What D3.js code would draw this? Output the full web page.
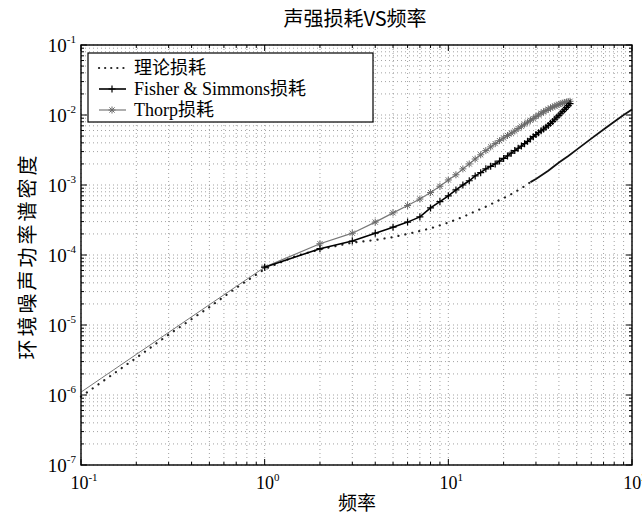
<!DOCTYPE html>
<html>
<head>
<meta charset="utf-8">
<script src="https://cdn.jsdelivr.net/npm/d3@7/dist/d3.min.js"></script>
<style>
  body { margin: 0; background: #fff; }
  svg { display: block; }
  .cjk { font-family: "Noto Sans CJK SC", sans-serif; }
  .num { font-family: "Liberation Serif", "DejaVu Serif", serif; }
</style>
</head>
<body>
<svg id="chart" width="642" height="514"></svg>
<script>
// data
var theoryFreq = [0.1, 0.2, 0.3, 0.5, 0.7, 1, 1.5, 2, 3, 4, 5, 6, 7, 8, 10, 12, 14, 16, 18, 20, 22, 25, 28, 30, 35, 40, 45, 50, 60, 70, 80, 90, 100];
var theoryVal = [9.5e-7, 3.4e-6, 7.3e-6, 1.8e-5, 3.4e-5, 6.3e-5, 9.8e-5, 1.2e-4, 1.5e-4, 1.64e-4, 1.8e-4, 2.0e-4, 2.2e-4, 2.4e-4, 2.9e-4, 3.5e-4, 4.2e-4, 4.9e-4, 5.7e-4, 6.5e-4, 7.4e-4, 9.0e-4, 1.1e-3, 1.22e-3, 1.6e-3, 2.1e-3, 2.6e-3, 3.2e-3, 4.6e-3, 6.2e-3, 8.0e-3, 1.0e-2, 1.2e-2];

var lowFreq = [0.1, 0.2, 0.5, 1];
var lowVal = [1.1e-6, 3.8e-6, 1.95e-5, 6.7e-5];

var freq = [1, 2, 3, 4, 5, 6, 7, 8, 9, 10, 11, 12, 13, 14, 15, 16, 17, 18, 19, 20, 21, 22, 23, 24, 25, 26, 27, 28, 29, 30, 31, 32, 33, 34, 35, 36, 37, 38, 39, 40, 41, 42, 43, 44, 45, 46];
var fisherVal = [6.7e-5, 1.23e-4, 1.58e-4, 2.05e-4, 2.5e-4, 2.95e-4, 3.5e-4, 4.7e-4, 5.8e-4, 7.0e-4, 8.5e-4, 1.0e-3, 1.15e-3, 1.35e-3, 1.5e-3, 1.7e-3, 1.85e-3, 2.0e-3, 2.2e-3, 2.4e-3, 2.6e-3, 2.85e-3, 3.1e-3, 3.35e-3, 3.6e-3, 3.9e-3, 4.2e-3, 4.55e-3, 4.9e-3, 5.25e-3, 5.6e-3, 5.95e-3, 6.3e-3, 6.7e-3, 7.1e-3, 7.6e-3, 8.1e-3, 8.7e-3, 9.3e-3, 9.9e-3, 1.06e-2, 1.13e-2, 1.2e-2, 1.28e-2, 1.36e-2, 1.45e-2];
var thorpVal = [6.7e-5, 1.45e-4, 2.05e-4, 2.95e-4, 4.0e-4, 5.1e-4, 6.3e-4, 7.8e-4, 9.6e-4, 1.18e-3, 1.4e-3, 1.7e-3, 2.0e-3, 2.35e-3, 2.7e-3, 3.1e-3, 3.5e-3, 3.9e-3, 4.3e-3, 4.7e-3, 5.1e-3, 5.5e-3, 5.9e-3, 6.4e-3, 6.9e-3, 7.4e-3, 7.9e-3, 8.4e-3, 8.9e-3, 9.5e-3, 1.0e-2, 1.06e-2, 1.11e-2, 1.16e-2, 1.21e-2, 1.26e-2, 1.3e-2, 1.34e-2, 1.38e-2, 1.42e-2, 1.45e-2, 1.48e-2, 1.51e-2, 1.53e-2, 1.55e-2, 1.57e-2];

var xExp = [-1, 0, 1, 2];
var yExp = [-7, -6, -5, -4, -3, -2, -1];
var legendLabels = ["理论损耗", "Fisher & Simmons损耗", "Thorp损耗"];

var L = 81, R = 632, T = 45, B = 465;
var svg = d3.select("#chart");
var x = d3.scaleLog().domain([0.1, 100]).range([L, R]);
var y = d3.scaleLog().domain([1e-7, 1e-1]).range([B, T]);

// grid at every log tick (dotted, like matlab minor grid)
var xt = x.ticks(), yt = y.ticks();
var grid = svg.append("g").attr("stroke", "#8a8a8a").attr("stroke-width", 0.8).attr("stroke-dasharray", "1,3");
grid.selectAll(".gx").data(xt).enter().append("line")
  .attr("x1", function(d){ return x(d); }).attr("x2", function(d){ return x(d); })
  .attr("y1", T).attr("y2", B);
grid.selectAll(".gy").data(yt).enter().append("line")
  .attr("y1", function(d){ return y(d); }).attr("y2", function(d){ return y(d); })
  .attr("x1", L).attr("x2", R);

// ticks inward on all four sides
function isMajor(v){ var e = Math.log10(v); return Math.abs(e - Math.round(e)) < 1e-6; }
var tk = svg.append("g").attr("stroke", "#000").attr("stroke-width", 1);
xt.forEach(function(d){
  var len = isMajor(d) ? 6 : 3;
  tk.append("line").attr("x1", x(d)).attr("x2", x(d)).attr("y1", B).attr("y2", B - len);
  tk.append("line").attr("x1", x(d)).attr("x2", x(d)).attr("y1", T).attr("y2", T + len);
});
yt.forEach(function(d){
  var len = isMajor(d) ? 6 : 3;
  tk.append("line").attr("y1", y(d)).attr("y2", y(d)).attr("x1", L).attr("x2", L + len);
  tk.append("line").attr("y1", y(d)).attr("y2", y(d)).attr("x1", R).attr("x2", R - len);
});

// lines
var line = d3.line().x(function(d){ return x(d[0]); }).y(function(d){ return y(d[1]); });
var theory = d3.zip(theoryFreq, theoryVal);
svg.append("path").datum(theory.filter(function(d){ return d[0] <= 28; }))
  .attr("d", line).attr("fill", "none").attr("stroke", "#222").attr("stroke-width", 2.2)
  .attr("stroke-dasharray", "0.1,7").attr("stroke-linecap", "round");
svg.append("path").datum(theory.filter(function(d){ return d[0] >= 28; }))
  .attr("d", line).attr("fill", "none").attr("stroke", "#111").attr("stroke-width", 1.8);

svg.append("path").datum(d3.zip(lowFreq, lowVal))
  .attr("d", line).attr("fill", "none").attr("stroke", "#777").attr("stroke-width", 1);

var plusPath = "M-3.5,0H3.5M0,-3.5V3.5";
var starPath = "M-3.5,0H3.5M0,-3.5V3.5M-2.6,-2.6L2.6,2.6M-2.6,2.6L2.6,-2.6";

var thorp = d3.zip(freq, thorpVal);
svg.append("path").datum(thorp).attr("d", line).attr("fill", "none").attr("stroke", "#777").attr("stroke-width", 1.2);
svg.append("g").selectAll("path").data(thorp).enter().append("path")
  .attr("d", starPath).attr("transform", function(d){ return "translate(" + x(d[0]) + "," + y(d[1]) + ")"; })
  .attr("fill", "none").attr("stroke", "#6a6a6a").attr("stroke-width", 1);

var fisher = d3.zip(freq, fisherVal);
svg.append("path").datum(fisher).attr("d", line).attr("fill", "none").attr("stroke", "#000").attr("stroke-width", 1.6);
svg.append("g").selectAll("path").data(fisher).enter().append("path")
  .attr("d", plusPath).attr("transform", function(d){ return "translate(" + x(d[0]) + "," + y(d[1]) + ")"; })
  .attr("fill", "none").attr("stroke", "#000").attr("stroke-width", 1.2);

// box
svg.append("rect").attr("x", L).attr("y", T).attr("width", R - L).attr("height", B - T)
  .attr("fill", "none").attr("stroke", "#000").attr("stroke-width", 1.4);

// tick labels
xExp.forEach(function(e){
  var t = svg.append("text").attr("class", "num").attr("x", x(Math.pow(10, e)) + 3).attr("y", 489)
    .attr("text-anchor", "middle").attr("font-size", 18);
  t.append("tspan").text("10");
  t.append("tspan").attr("font-size", 11).attr("dy", -8).text(e);
});
yExp.forEach(function(e){
  var t = svg.append("text").attr("class", "num").attr("x", 76).attr("y", y(Math.pow(10, e)) + 7)
    .attr("text-anchor", "end").attr("font-size", 19);
  t.append("tspan").text("10");
  t.append("tspan").attr("font-size", 11).attr("dy", -9).text(e);
});

// titles
svg.append("text").attr("class", "cjk").attr("x", 355).attr("y", 26).attr("text-anchor", "middle")
  .attr("font-size", 20).text("声强损耗VS频率");
svg.append("text").attr("class", "cjk").attr("x", 357).attr("y", 510).attr("text-anchor", "middle")
  .attr("font-size", 19).text("频率");
svg.append("text").attr("class", "cjk").attr("transform", "translate(35,256) rotate(-90)")
  .attr("text-anchor", "middle").attr("font-size", 20).attr("letter-spacing", 3).text("环境噪声功率谱密度");

// legend
var lg = svg.append("g");
lg.append("rect").attr("x", 88).attr("y", 53).attr("width", 285).attr("height", 69)
  .attr("fill", "#fff").attr("stroke", "#000").attr("stroke-width", 1.2);
var rows = [68, 89, 110];
legendLabels.forEach(function(s, i){
  var ly = rows[i];
  var seg = lg.append("line").attr("x1", 99).attr("x2", 126).attr("y1", ly).attr("y2", ly);
  if (i === 0) seg.attr("stroke", "#222").attr("stroke-width", 2.2).attr("stroke-dasharray", "0.1,6").attr("stroke-linecap", "round");
  if (i === 1) {
    seg.attr("stroke", "#000").attr("stroke-width", 1.6);
    lg.append("path").attr("d", plusPath).attr("transform", "translate(112," + ly + ")").attr("stroke", "#000").attr("stroke-width", 1.2);
  }
  if (i === 2) {
    seg.attr("stroke", "#777").attr("stroke-width", 1.2);
    lg.append("path").attr("d", starPath).attr("transform", "translate(112," + ly + ")").attr("stroke", "#6a6a6a").attr("stroke-width", 1);
  }
  var t = lg.append("text").attr("x", 134).attr("y", ly + 6).attr("font-size", 18);
  var m = s.match(/^([A-Za-z &]*)(.*)$/);
  if (m[1]) t.append("tspan").attr("class", "num").text(m[1]);
  t.append("tspan").attr("class", "cjk").text(m[2]);
});
</script>
</body>
</html>
